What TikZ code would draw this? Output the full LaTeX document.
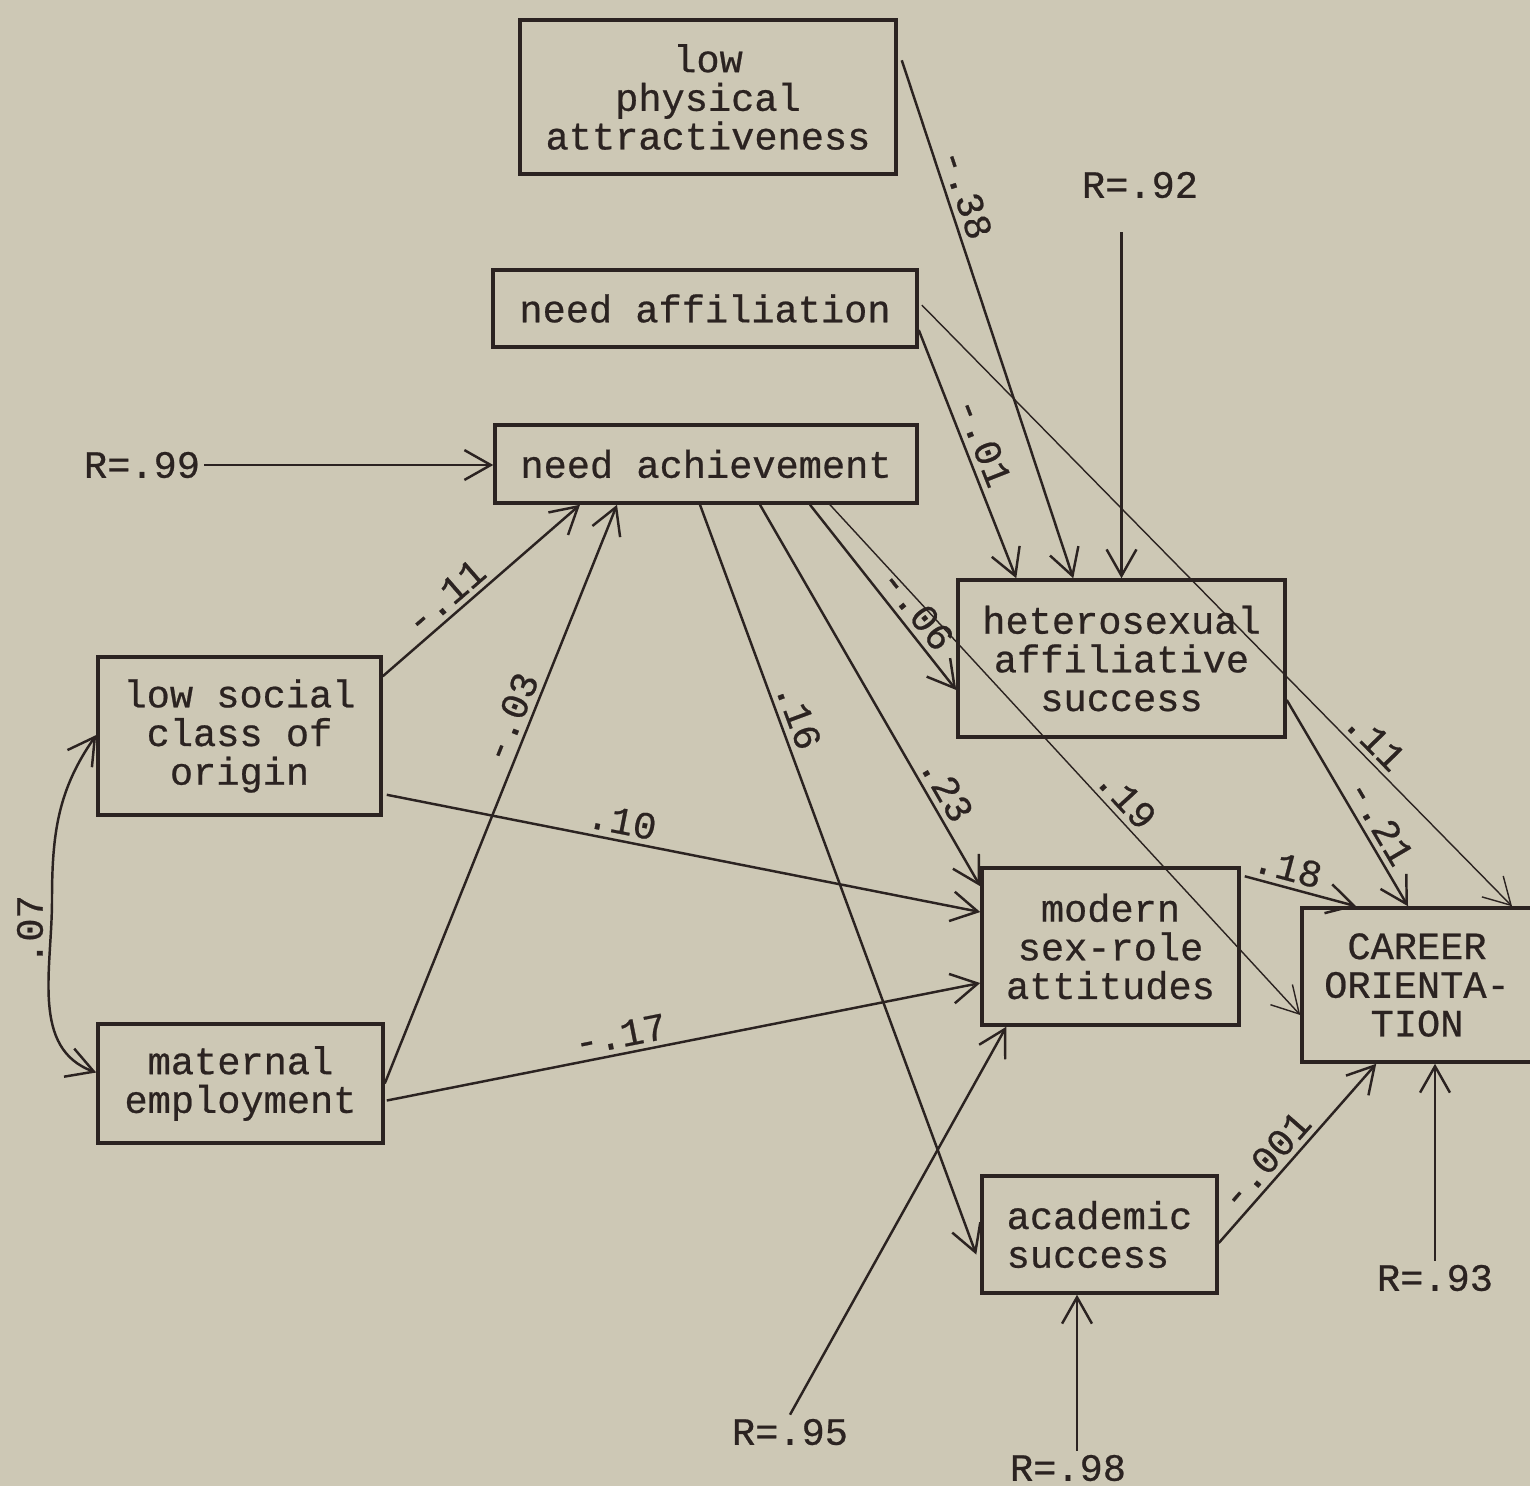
\documentclass[tikz,border=0pt]{standalone}
\usepackage{fontspec}
\setmonofont[FakeBold=0.6]{Liberation Mono}
\usetikzlibrary{positioning,calc,arrows.meta}
\definecolor{scanPaper}{HTML}{CDC8B5}
\definecolor{scanInk}{HTML}{2B2321}

\begin{document}
\begin{tikzpicture}[
    >={Straight Barb[length=7.5pt,width=8.5pt]},
    arrow/.style={
        ->,
        line width=0.7pt,
        scanInk,
    },
    thinarrow/.style={arrow, line width=0.4pt},
    box/.style={
        rectangle,
        draw=scanInk,
        line width=1pt,
        inner sep=0pt,
        align=center,
        text=scanInk,
        font=\fontsize{11}{11}\selectfont\ttfamily,
    },
    coef/.style={
        sloped,
        above,
        inner sep=1.5pt,
        text=scanInk,
        font=\fontsize{11}{11}\selectfont\ttfamily,
    },
    resid/.style={
        inner sep=1pt,
        text=scanInk,
        font=\fontsize{11}{11}\selectfont\ttfamily,
    },
]

    \useasboundingbox (0,0) rectangle (15.3,-14.86);
    \fill[scanPaper] (0,0) rectangle (15.3,-14.86);

    % === Variables ===
    \node[box, minimum width=3.76cm, minimum height=1.54cm] (phys) at (7.08,-0.97) {low\\physical\\attractiveness};
    \node[box, minimum width=4.24cm, minimum height=0.77cm] (naff) at (7.05,-3.085) {need affiliation};
    \node[box, minimum width=4.22cm, minimum height=0.78cm] (nach) at (7.06,-4.64) {need achievement};
    \node[box, minimum width=2.83cm, minimum height=1.58cm] (ses) at (2.395,-7.36) {low social\\class of\\origin};
    \node[box, minimum width=2.85cm, minimum height=1.19cm] (matemp) at (2.405,-10.835) {maternal\\employment};
    \node[box, minimum width=3.27cm, minimum height=1.57cm] (hetero) at (11.215,-6.585) {heterosexual\\affiliative\\success};
    \node[box, minimum width=2.57cm, minimum height=1.57cm] (modern) at (11.105,-9.465) {modern\\sex-role\\attitudes};
    \node[box, minimum width=2.30cm, minimum height=1.54cm] (career) at (14.17,-9.85) {CAREER\\ORIENTA-\\TION};
    \node[box, align=left, minimum width=2.35cm, minimum height=1.17cm] (acad) at (10.995,-12.345) {academic\\success};

    % Residuals
    \node[resid] (r99) at (1.42,-4.65) {R=.99};
    \node[resid] (r92) at (11.40,-1.85) {R=.92};
    \node[resid] (r93) at (14.35,-12.78) {R=.93};
    \node[resid] (r98) at (10.68,-14.68) {R=.98};
    \node[resid] (r95) at (7.90,-14.32) {R=.95};

    \draw[arrow] (r99.east) -- (r99.east -| nach.west);
    \draw[arrow] ($(hetero.north |- r92.south)+(0,-0.3)$) -- (hetero.north);
    \draw[arrow] (r93.north) -- (r93.north |- career.south);
    \draw[arrow] ($(r98.north)+(0.09,0)$) -- ($(r98.north |- acad.south)+(0.09,0)$);
    \draw[arrow] (r95.north) -- ($(modern.south west)+(0.26,0)$);

    % Correlation of the exogenous variables
    \coordinate (c07) at (0.52,-9.00);
    \draw[arrow,<->] ([yshift=0.01cm]ses.west) to[out=235,in=90] (c07) to[out=-90,in=160] ([yshift=0.11cm]matemp.west);
    \node[resid, rotate=90] at (0.30,-9.30) {.07};

    % Paths into need achievement
    \draw[arrow] ($(ses.north east)+(0,-0.21)$) -- node[coef, pos=0.38] {-.11} ($(nach.south)+(-1.26,0)$);
    \draw[arrow] (matemp.east) -- node[coef, pos=0.62] {-.03} ($(nach.south)+(-0.89,0)$);

    % Paths into heterosexual success
    \draw[arrow] ($(phys.north east)+(0.04,-0.42)$) -- node[coef, pos=0.27] {-.38} ($(hetero.north west)+(1.17,0)$);
    \draw[arrow] ($(naff.east)+(0,-0.215)$) -- node[coef, pos=0.48] {-.01} ($(hetero.north west)+(0.6,0)$);
    \draw[arrow] ($(nach.south)+(1.04,0)$) -- node[coef, pos=0.63] {-.06} ($(hetero.west)+(0,-0.315)$);

    % Paths into sex-role attitudes
    \draw[arrow] ($(ses.south east)+(0.04,0.22)$) -- node[coef, pos=0.39] {.10} ($(modern.west)+(0,0.345)$);
    \draw[arrow] ($(matemp.east)+(0.02,-0.17)$) -- node[coef, pos=0.40] {-.17} ($(modern.west)+(0,-0.365)$);
    \draw[arrow] ($(nach.south)+(0.54,0)$) -- node[coef, pos=0.77] {.23} ($(modern.north west)+(0,-0.2)$);

    % Path into academic success
    \draw[arrow] ($(nach.south)+(-0.06,0)$) -- node[coef, pos=0.29] {.16} ($(acad.west)+(-0.04,-0.2)$);

    % Paths into career orientation
    \draw[thinarrow] ($(naff.east)+(0.03,0.035)$) -- node[coef, pos=0.745] {.11} ($(career.north)+(0.95,0)$);
    \draw[thinarrow] ($(nach.south)+(1.24,0)$) -- node[coef, pos=0.60] {.19} ($(career.west)+(0,-0.30)$);
    \draw[arrow] ($(hetero.east)+(0,-0.415)$) -- node[coef, pos=0.64] {-.21} ($(career.north)+(-0.09,0)$);
    \draw[arrow] ($(modern.north east)+(0.04,-0.1)$) -- node[coef, pos=0.34] {.18} ($(career.north west)+(0.56,0)$);
    \draw[arrow] ($(acad.east)+(0,-0.085)$) -- node[coef, pos=0.39] {-.001} ($(career.south west)+(0.76,0)$);

\end{tikzpicture}
\end{document}
